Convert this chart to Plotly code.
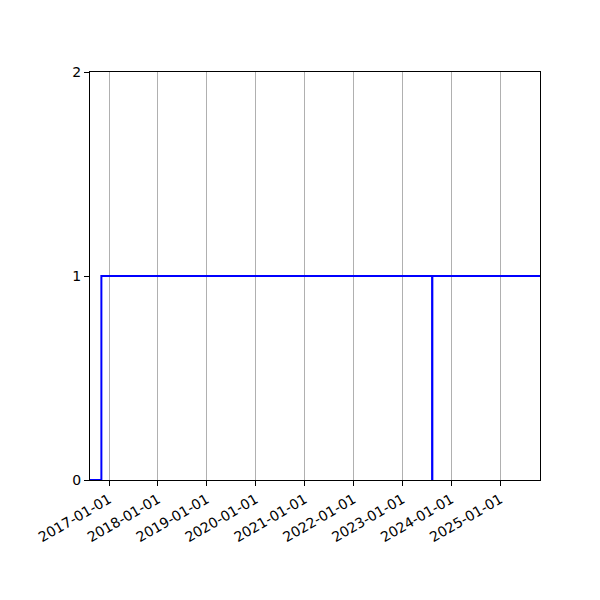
import plotly.graph_objects as go

# step series (value holds until the next date)
dates = ["2016-08-12", "2016-11-05", "2023-08-11", "2023-08-13", "2025-10-25"]
values = [0, 1, 0, 1, 1]

tick_dates = ["2017-01-01", "2018-01-01", "2019-01-01", "2020-01-01", "2021-01-01",
              "2022-01-01", "2023-01-01", "2024-01-01", "2025-01-01"]
y_ticks = [0, 1, 2]

fig = go.Figure()
fig.add_trace(go.Scatter(
    x=dates, y=values,
    mode="lines",
    line=dict(color="#0000ff", width=2, shape="hv"),
    showlegend=False,
))

# page body adds ~8px offset, so margins are shifted to compensate
fig.update_layout(
    width=600, height=600,
    margin=dict(l=82, r=68, t=64, b=128, autoexpand=False),
    plot_bgcolor="white",
    paper_bgcolor="white",
    font=dict(family="DejaVu Sans", size=14, color="black"),
)

fig.update_xaxes(
    type="date",
    range=[dates[0], dates[-1]],
    tickvals=tick_dates,
    ticktext=tick_dates,
    tickangle=-30,
    showgrid=True, gridcolor="#b0b0b0", gridwidth=1,
    showline=True, linecolor="black", linewidth=1, mirror=True,
    ticks="outside", ticklen=5, tickcolor="black",
    zeroline=False,
)
fig.update_yaxes(
    range=[0, 2],
    tickvals=y_ticks,
    showgrid=False,
    showline=True, linecolor="black", linewidth=1, mirror=True,
    ticks="outside", ticklen=5, tickcolor="black",
    zeroline=False,
)

fig.write_html("out.html")
